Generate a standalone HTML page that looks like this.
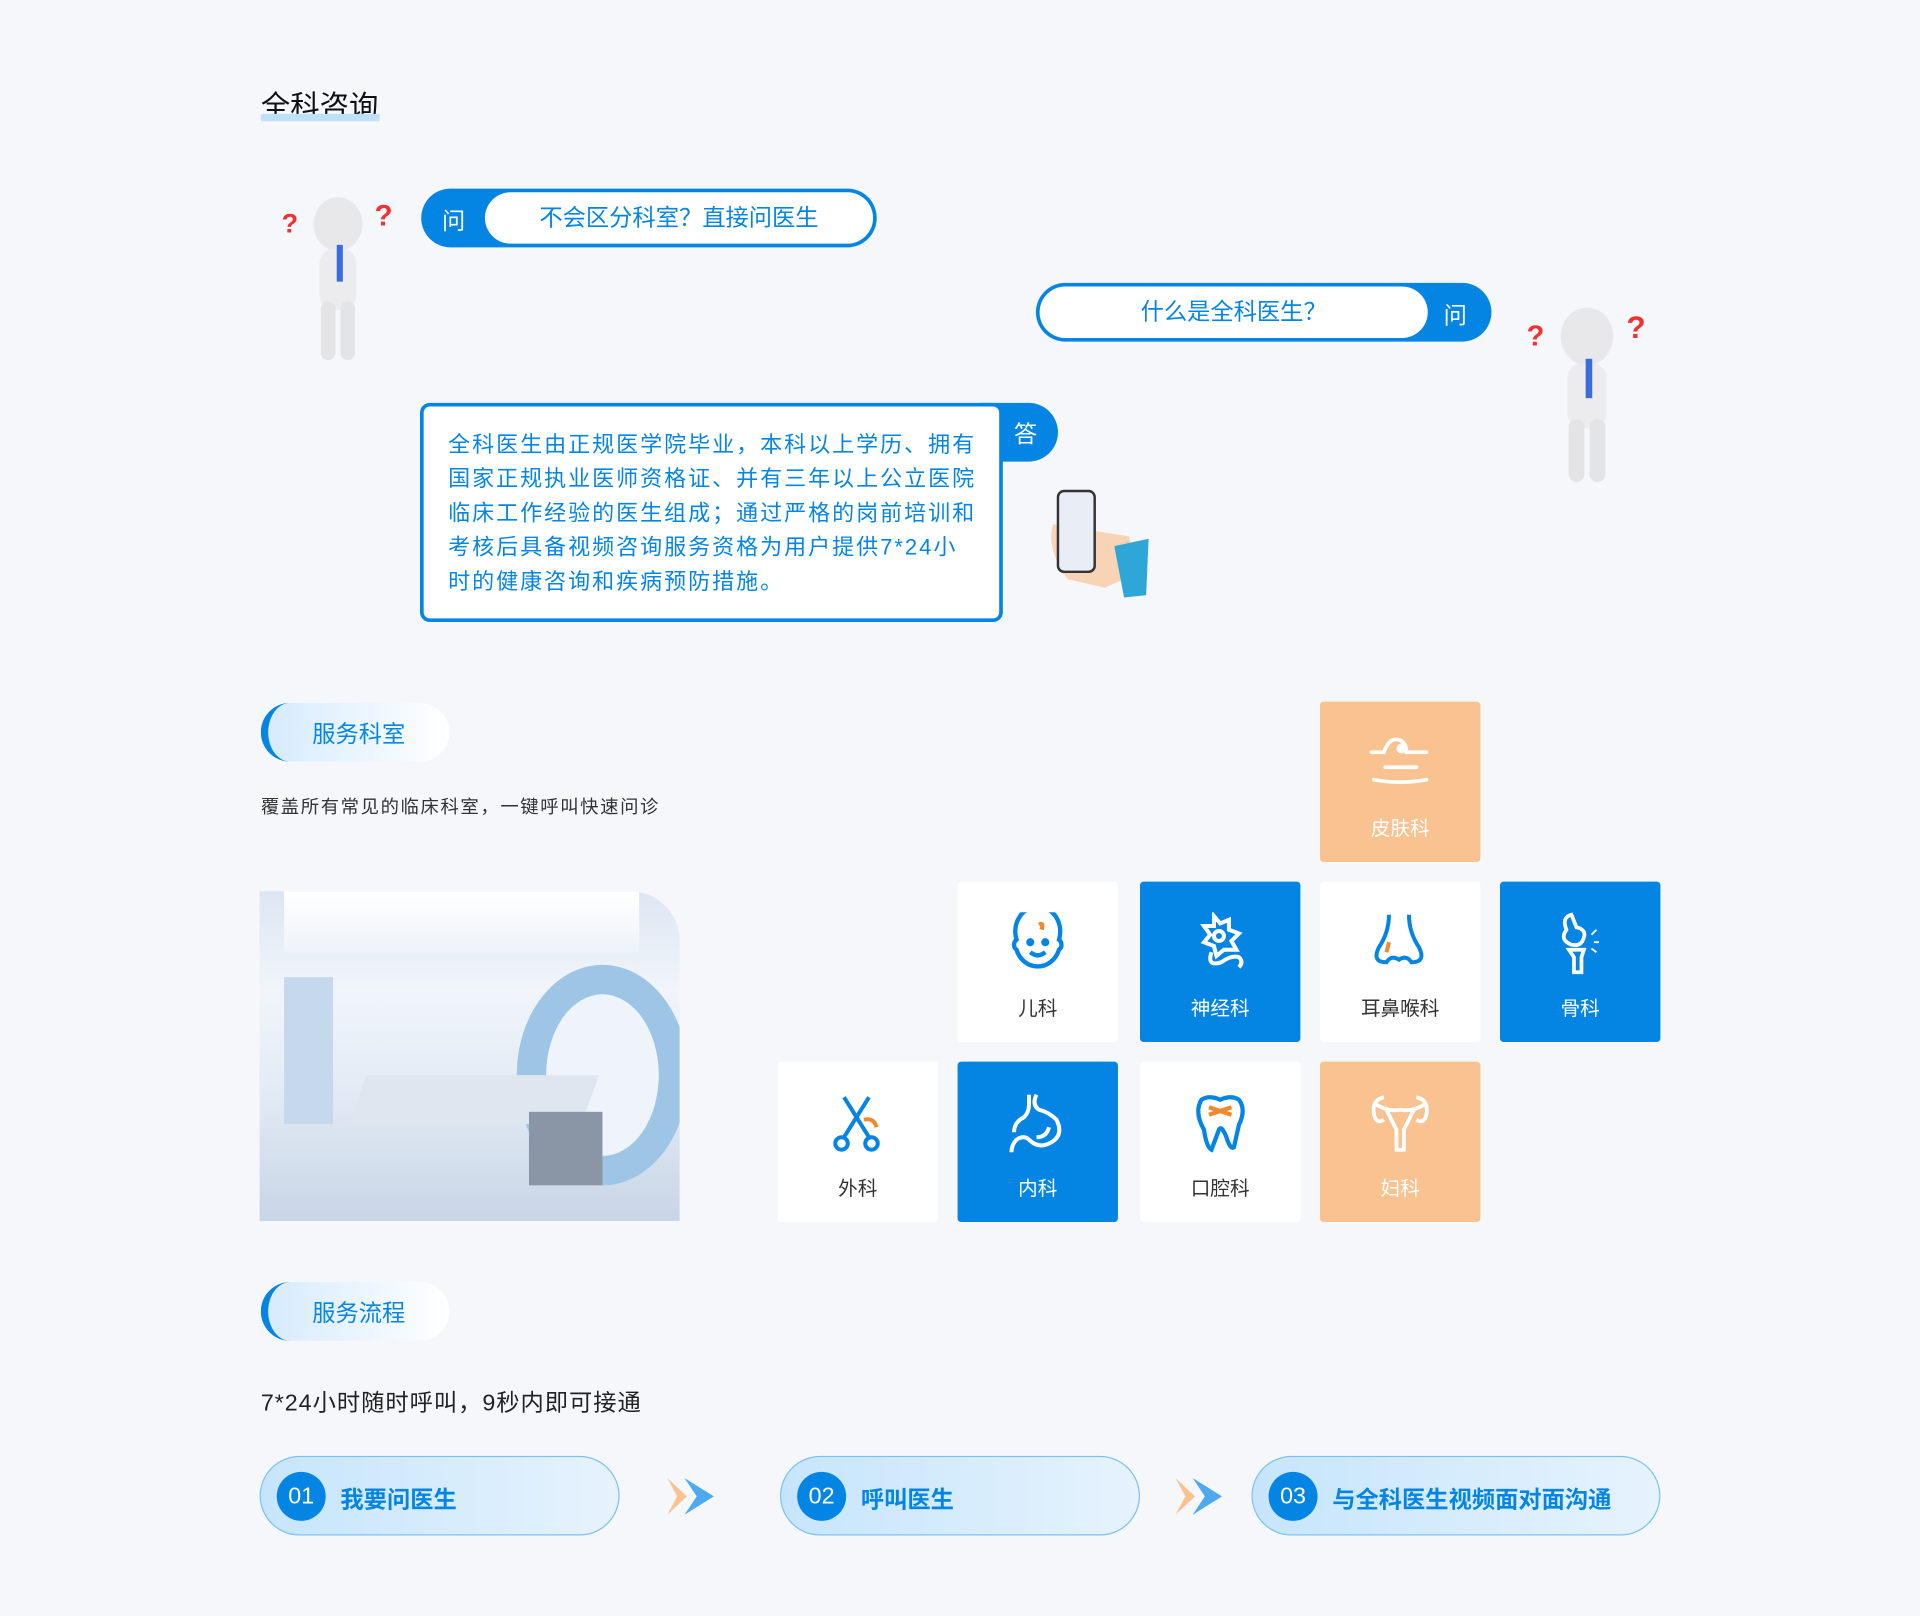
<!DOCTYPE html>
<html><head><meta charset="utf-8"><style>
*{margin:0;padding:0;box-sizing:border-box}
html,body{width:1920px;height:1616px;overflow:hidden;background:#f5f7fb}
#w{position:absolute;left:0;top:0;width:1568px;height:1320px;transform:scale(1.22449);transform-origin:0 0;font-family:"Liberation Sans","Noto Sans CJK SC",sans-serif}
.a{position:absolute}
.t{position:absolute;width:131px;height:131px;border-radius:3px;background:#fff}
.t.b{background:#0585e3}.t.o{background:#f8c391}
.t span{position:absolute;left:0;right:0;top:90px;text-align:center;font-size:16px;color:#333}
.t.b span,.t.o span{color:#fff}
.t svg{position:absolute;left:40px;top:25px;width:51px;height:51px}
.hdr{position:absolute;width:154px;height:48px;border-radius:24px;background:linear-gradient(90deg,#d6ebfd,#fff);border-left:6px solid #0585e3}
.hdr div{position:absolute;left:36px;top:11px;font-size:19px;color:#0585e3}
.step{position:absolute;height:65px;top:1189px;border-radius:33px;border:1px solid #7cc0f5;background:linear-gradient(90deg,#c6e5fc,#e6f3fd)}
.step .c{position:absolute;left:13px;top:12px;width:40px;height:40px;border-radius:50%;background:#0585e3;color:#fff;font-size:19px;text-align:center;line-height:42px}
.step .x{position:absolute;left:65px;top:20px;font-size:19px;font-weight:bold;color:#0585e3;white-space:nowrap}
</style></head><body><div id="w">
<div class="a" style="left:213px;top:67px;font-size:24px;color:#111">全科咨询</div>
<div class="a" style="left:213px;top:93px;width:97px;height:6px;background:#bfe0fb"></div>

<svg class="a" style="left:228px;top:158px" width="95" height="140" viewBox="0 0 95 140"><ellipse cx="48" cy="25" rx="20" ry="22" fill="#e8e8ea"/><rect x="33" y="45" width="30" height="50" rx="12" fill="#ececee"/><rect x="34" y="88" width="12" height="48" rx="6" fill="#e4e4e6"/><rect x="50" y="88" width="12" height="48" rx="6" fill="#e4e4e6"/><rect x="47" y="42" width="5" height="30" fill="#3a6ce0"/><text x="2" y="32" fill="#e33" font-size="22" font-weight="bold">?</text><text x="78" y="26" fill="#e33" font-size="24" font-weight="bold">?</text></svg>
<svg class="a" style="left:1243px;top:248px" width="105" height="150" viewBox="0 0 95 140"><ellipse cx="48" cy="25" rx="20" ry="22" fill="#e8e8ea"/><rect x="33" y="45" width="30" height="50" rx="12" fill="#ececee"/><rect x="34" y="88" width="12" height="48" rx="6" fill="#e4e4e6"/><rect x="50" y="88" width="12" height="48" rx="6" fill="#e4e4e6"/><rect x="47" y="42" width="5" height="30" fill="#3a6ce0"/><text x="2" y="32" fill="#e33" font-size="22" font-weight="bold">?</text><text x="78" y="26" fill="#e33" font-size="24" font-weight="bold">?</text></svg>

<div class="a" style="left:344px;top:154px;width:372px;height:48px;border-radius:24px;background:#0585e3"></div>
<div class="a" style="left:361px;top:166px;font-size:19px;color:#fff">问</div>
<div class="a" style="left:396px;top:157px;width:317px;height:42px;border-radius:21px;background:#fff;text-align:center;line-height:44px;font-size:19px;color:#0585e3">不会区分科室？直接问医生</div>

<div class="a" style="left:846px;top:231px;width:372px;height:48px;border-radius:24px;background:#0585e3"></div>
<div class="a" style="left:1179px;top:243px;font-size:19px;color:#fff">问</div>
<div class="a" style="left:849px;top:234px;width:317px;height:42px;border-radius:21px;background:#fff;text-align:center;line-height:44px;font-size:19px;color:#0585e3">什么是全科医生？</div>

<div class="a" style="left:800px;top:329px;width:64px;height:48px;border-radius:0 24px 24px 0;background:#0585e3"></div>
<div class="a" style="left:828px;top:340px;font-size:19px;color:#fff">答</div>
<div class="a" style="left:343px;top:329px;width:476px;height:179px;border:3px solid #0585e3;border-radius:8px;background:#fff;padding:17px 0 0 20px;font-size:18px;line-height:28px;color:#0585e3;letter-spacing:1.6px;white-space:nowrap">全科医生由正规医学院毕业，本科以上学历、拥有<br>国家正规执业医师资格证、并有三年以上公立医院<br>临床工作经验的医生组成；通过严格的岗前培训和<br>考核后具备视频咨询服务资格为用户提供7*24小<br>时的健康咨询和疾病预防措施。</div>
<svg class="a" style="left:852px;top:398px" width="90" height="95"><path d="M8 30 Q2 50 20 75 L50 82 L78 70 L70 40 Z" fill="#f8d3b5"/><rect x="12" y="3" width="30" height="66" rx="5" fill="#e9edf5" stroke="#333" stroke-width="2"/><path d="M58 48 L86 42 L84 88 L66 90 Z" fill="#2ea7d8"/></svg>

<div class="hdr" style="left:213px;top:574px"><div>服务科室</div></div>
<div class="a" style="left:213px;top:648px;font-size:15px;color:#333;letter-spacing:1.3px">覆盖所有常见的临床科室，一键呼叫快速问诊</div>

<div class="a" style="left:212px;top:728px;width:343px;height:269px;border-radius:0 40px 0 0;overflow:hidden;background:linear-gradient(180deg,#dce6f2 0%,#f1f5fa 30%,#e3ebf5 60%,#c8d5e6 100%)">
<div class="a" style="left:20px;top:0;width:290px;height:50px;background:linear-gradient(180deg,#fff,#eef3f9)"></div>
<div class="a" style="left:20px;top:70px;width:40px;height:120px;background:#c5d8ec"></div>
<div class="a" style="left:210px;top:60px;width:140px;height:180px;border-radius:50%;border:24px solid #9ec5e5;background:#eef4fa"></div>
<div class="a" style="left:80px;top:150px;width:190px;height:40px;background:#dfe6ef;transform:skewX(-20deg)"></div>
<div class="a" style="left:220px;top:180px;width:60px;height:60px;background:#8a95a5"></div>
</div>

<div class="t o" style="left:1078px;top:573px"><svg viewBox="0 0 50 50" fill="none" stroke="#fff" stroke-width="3" stroke-linecap="round"><path d="M2 16 H12 Q16 4 24 6 Q30 8 30 16 L46 16"/><circle cx="26" cy="13" r="2.5" fill="#fff"/><path d="M13 28 H38 M4 38 Q25 42 46 38"/></svg><span>皮肤科</span></div>
<div class="t" style="left:782px;top:720px"><svg viewBox="0 0 50 50" fill="none" stroke="#0585e3" stroke-width="3.5"><path d="M8 22 A18 20 0 1 1 42 22 A5 5 0 0 1 42 30 A18 20 0 0 1 8 30 A5 5 0 0 1 8 22Z"/><circle cx="19" cy="24" r="1.5" fill="#0585e3"/><circle cx="31" cy="24" r="1.5" fill="#0585e3"/><path d="M19 32 Q25 37 31 32"/><path d="M26 10 Q30 8 28 14" stroke="#f0892b"/></svg><span>儿科</span></div>
<div class="t b" style="left:931px;top:720px"><svg viewBox="0 0 50 50" fill="none" stroke="#fff" stroke-width="3.2"><path d="M20 3 L25 9 L32 6 L32 14 L40 17 L34 23 L38 30 L28 30 L22 35 L20 27 L12 24 L17 18 L12 11 L20 11Z"/><circle cx="24" cy="19" r="4"/><path d="M18 32 Q14 44 26 40 Q34 34 40 36 Q44 40 40 44"/></svg><span>神经科</span></div>
<div class="t" style="left:1078px;top:720px"><svg viewBox="0 0 50 50" fill="none" stroke="#0585e3" stroke-width="3.2"><path d="M16 2 Q16 16 8 28 Q2 40 14 40 Q18 34 24 38 Q30 34 34 40 Q46 40 40 28 Q32 16 32 2"/><path d="M16 24 L14 32" stroke="#f0892b"/></svg><span>耳鼻喉科</span></div>
<div class="t b" style="left:1225px;top:720px"><svg viewBox="0 0 50 50" fill="none" stroke="#fff" stroke-width="3"><path d="M18 2 Q10 4 14 14 Q8 22 18 26 Q26 28 28 20 Q30 14 22 12 Z"/><path d="M16 30 H28 L26 36 V48 H20 V36 Z"/><path d="M34 18 L38 14 M36 24 H40 M34 29 L38 32" stroke-width="1.5"/></svg><span>骨科</span></div>
<div class="t" style="left:635px;top:867px"><svg viewBox="0 0 50 50" fill="none" stroke="#0585e3" stroke-width="3.2"><path d="M14 4 L34 36 M34 4 L14 36"/><circle cx="12" cy="41" r="5"/><circle cx="36" cy="41" r="5"/><path d="M30 22 Q38 20 40 28" stroke="#f0892b"/></svg><span>外科</span></div>
<div class="t b" style="left:782px;top:867px"><svg viewBox="0 0 50 50" fill="none" stroke="#fff" stroke-width="3.2"><path d="M24 2 Q20 10 26 14 Q34 16 40 22 Q46 34 36 40 Q26 46 18 38 Q14 34 8 38 Q4 42 4 48"/><path d="M18 2 V10 Q18 16 14 20 Q6 24 6 32"/><path d="M34 28 Q32 36 24 36"/></svg><span>内科</span></div>
<div class="t" style="left:931px;top:867px"><svg viewBox="0 0 50 50" fill="none" stroke="#0585e3" stroke-width="3.4"><path d="M10 6 Q16 2 25 6 Q34 2 40 6 Q46 14 40 26 L36 44 Q33 46 30 36 Q26 26 24 30 L18 46 Q14 44 12 30 Q4 16 10 6Z"/><path d="M16 12 L34 18 M16 18 L34 12" stroke="#f0892b"/></svg><span>口腔科</span></div>
<div class="t o" style="left:1078px;top:867px"><svg viewBox="0 0 50 50" fill="none" stroke="#fff" stroke-width="3"><path d="M12 4 Q2 6 4 18 Q6 26 12 22 M38 4 Q48 6 46 18 Q44 26 38 22"/><path d="M6 10 Q16 16 25 14 Q34 16 44 10"/><path d="M14 14 Q20 26 22 30 V46 H28 V30 Q30 26 36 14"/></svg><span>妇科</span></div>

<div class="hdr" style="left:213px;top:1047px"><div>服务流程</div></div>
<div class="a" style="left:213px;top:1131px;font-size:19px;color:#222;letter-spacing:0.8px">7*24小时随时呼叫，9秒内即可接通</div>

<div class="step" style="left:212px;width:294px"><div class="c">01</div><div class="x">我要问医生</div></div>
<div class="step" style="left:637px;width:294px"><div class="c">02</div><div class="x">呼叫医生</div></div>
<div class="step" style="left:1022px;width:334px"><div class="c">03</div><div class="x">与全科医生视频面对面沟通</div></div>
<svg class="a" style="left:543px;top:1205px" width="42" height="34"><path d="M2 2 L18 17 L2 32 L10 17Z" fill="#f8c391"/><path d="M16 2 L40 17 L16 32 L26 17Z" fill="#4fa9f0"/></svg>
<svg class="a" style="left:958px;top:1205px" width="42" height="34"><path d="M2 2 L18 17 L2 32 L10 17Z" fill="#f8c391"/><path d="M16 2 L40 17 L16 32 L26 17Z" fill="#4fa9f0"/></svg>
</div></body></html>
